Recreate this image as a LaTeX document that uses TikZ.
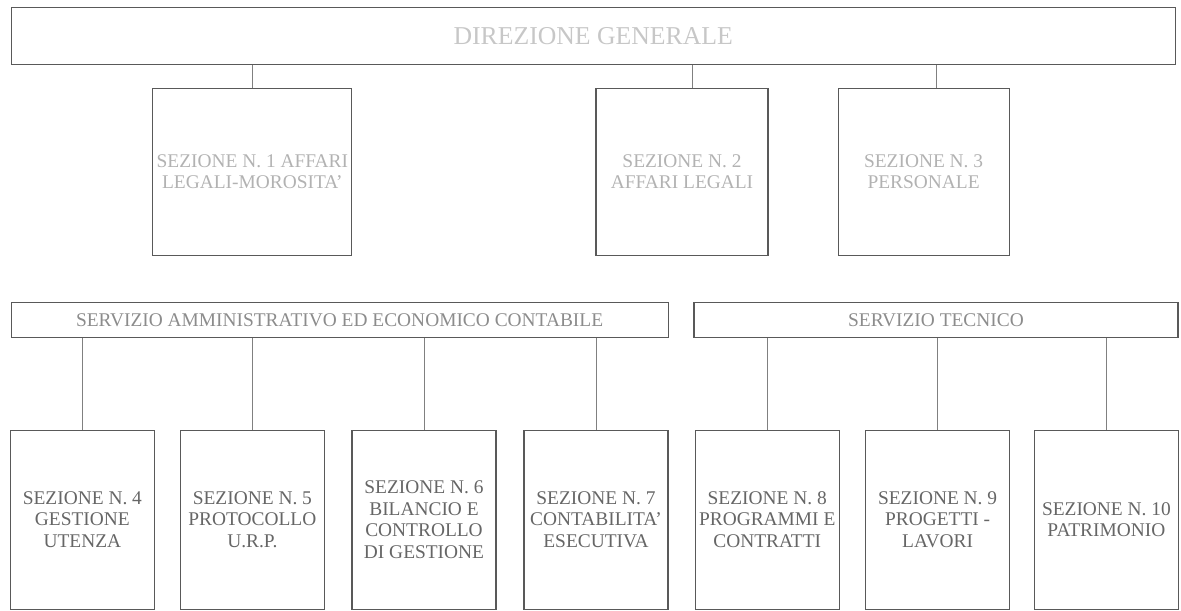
\documentclass[tikz,border=0pt]{standalone}
\usepackage{fontspec}
\setmainfont{Liberation Serif}
\usepackage{tikz}
\usetikzlibrary{positioning}

\tikzset{
    orgbox/.style={draw=black!65, line width=0.8pt, rectangle, align=center, inner sep=1pt,
        font=\fontsize{13.8}{15.5}\selectfont},
    topsez/.style={orgbox, minimum height=4.175cm, text=black!30},
    servbox/.style={orgbox, minimum height=0.875cm, text=black!45},
    sezbox/.style={orgbox, minimum width=3.6cm, minimum height=4.475cm, text=black!60},
    link/.style={draw=black!50, line width=0.5pt}
}

\begin{document}
\begin{tikzpicture}
    \useasboundingbox (0,0) rectangle (29.525,-15.275);

    % Direzione
    \node[orgbox, minimum width=29.1cm, minimum height=1.425cm, text=black!22,
        font=\fontsize{18.3}{19}\selectfont] (dg) at (14.83,-0.91) {DIREZIONE GENERALE};

    \node[topsez, minimum width=4.975cm] (s1) at (6.31,-4.29) {SEZIONE N. 1 AFFARI\\LEGALI-MOROSITA'};
    \node[topsez, minimum width=4.3cm] (s2) at (17.05,-4.29) {SEZIONE N. 2\\AFFARI LEGALI};
    \node[topsez, minimum width=4.275cm] (s3) at (23.09,-4.29) {SEZIONE N. 3\\PERSONALE};

    \draw[link] (s1.north) -- (s1.north |- dg.south);
    \draw[link] ([xshift=0.27cm]s2.north) -- ([xshift=0.27cm]s2.north |- dg.south);
    \draw[link] ([xshift=0.33cm]s3.north) -- ([xshift=0.33cm]s3.north |- dg.south);

    % Servizi
    \node[servbox, minimum width=16.425cm] (sa) at (8.49,-8.01) {SERVIZIO AMMINISTRATIVO ED ECONOMICO CONTABILE};
    \node[servbox, minimum width=12.1cm] (st) at (23.4,-8.01) {SERVIZIO TECNICO};

    % Sezioni
    \node[sezbox] (s4) at (2.06,-12.99) {SEZIONE N. 4\\GESTIONE\\UTENZA};
    \node[sezbox] (s5) at (6.31,-12.99) {SEZIONE N. 5\\PROTOCOLLO\\U.R.P.};
    \node[sezbox] (s6) at (10.6,-12.99) {SEZIONE N. 6\\BILANCIO E\\CONTROLLO\\DI GESTIONE};
    \node[sezbox] (s7) at (14.9,-12.99) {SEZIONE N. 7\\CONTABILITA'\\ESECUTIVA};
    \node[sezbox] (s8) at (19.18,-12.99) {SEZIONE N. 8\\PROGRAMMI E\\CONTRATTI};
    \node[sezbox] (s9) at (23.44,-12.99) {SEZIONE N. 9\\PROGETTI -\\LAVORI};
    \node[sezbox] (s10) at (27.66,-12.99) {SEZIONE N. 10\\PATRIMONIO};

    \foreach \s in {s4,s5,s6,s7}
        \draw[link] (\s.north) -- (\s.north |- sa.south);
    \foreach \s in {s8,s9,s10}
        \draw[link] (\s.north) -- (\s.north |- st.south);
\end{tikzpicture}
\end{document}
